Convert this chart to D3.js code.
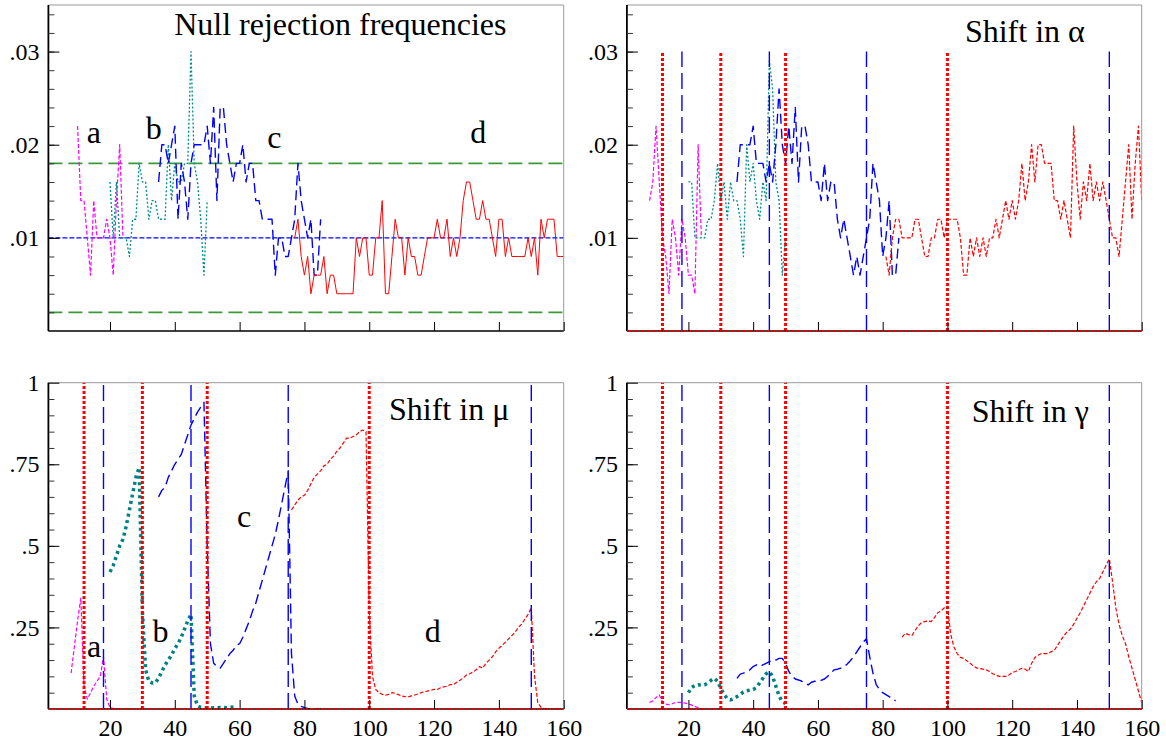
<!DOCTYPE html>
<html>
<head>
<meta charset="utf-8">
<script src="https://cdn.jsdelivr.net/npm/d3@7"></script>
<style>
  body { margin: 0; background: #fff; }
  text { font-family: "Liberation Serif", "Times New Roman", serif; fill: #000; }
</style>
</head>
<body>
<svg id="chart" width="1166" height="747"></svg>
<script>
// sample sizes run from 1 to 160
const T_FIRST = 1, T_LAST = 160;
const xTickValues = [20, 40, 60, 80, 100, 120, 140, 160];

// break dates (red dotted) and end of samples (blue dashed)
const breakDates = [12, 30, 50, 100];
const sampleEnds = [18, 45, 75, 150];

// Null rejection frequencies (top left)
const nullA_start = 10;
const nullA = [.022,.014,.014,.010,.006,.014,.010,.010,.010,.012,.010,.006,.014,.020,.010];
const nullB_start = 20;
const nullB = [.016,.010,.016,.010,.010,.010,.008,.012,.012,.018,.016,.016,.012,.014,.014,.012,
  .012,.012,.020,.014,.018,.016,.016,.018,.018,.030,.018,.016,.012,.006,.014];
const nullC_start = 35;
const nullC = [.016,.020,.020,.018,.020,.022,.012,.018,.016,.012,
  .018,.020,.020,.020,.020,.022,.018,.024,.014,.024,
  .024,.020,.018,.016,.018,.018,.020,.016,.018,.018,
  .014,.014,.012,.012,.012,.012,.006,.010,.010,.008,
  .008,.010,.012,.018,.014,.012,.010,.012,.006,.006,
  .012];
const nullD_start = 77;
const nullD = [.010,.012,.008,.006,.008,.004,.006,.006,.006,.008,
  .004,.006,.006,.004,.004,.004,.004,.004,.004,.010,
  .008,.010,.010,.006,.006,.010,.010,.014,.004,.004,
  .008,.012,.010,.010,.006,.010,.008,.008,.006,.006,
  .008,.010,.010,.010,.012,.010,.010,.012,.008,.010,
  .008,.010,.014,.016,.016,.014,.012,.012,.014,.012,
  .012,.010,.008,.012,.012,.008,.010,.008,.008,.008,
  .008,.008,.010,.008,.010,.006,.012,.010,.012,.012,
  .012,.008,.008,.008];
const nullBands = [0.018, 0.002];
const nominalSize = 0.01;

// Shift in alpha (top right)
const alphaA_start = 8;
const alphaA = [.014,.016,.022,.016,.010,.008,.004,.012,.010,.006,.012,.010,.006,.006,.004,.020,.010];
const alphaB_start = 20;
const alphaB = [.016,.016,.010,.010,.010,.010,.012,.012,.014,.018,.014,.016,.012,.016,.014,.014,
  .012,.008,.020,.016,.018,.014,.012,.016,.014,.029,.026,.016,.014,.006,.010];
const alphaC_start = 35;
const alphaC = [.016,.020,.020,.020,.020,.022,.018,.018,.018,.016,
  .018,.016,.020,.026,.020,.018,.022,.018,.024,.016,
  .022,.022,.020,.016,.016,.016,.014,.018,.014,.016,
  .016,.012,.010,.012,.010,.008,.006,.008,.006,.008,
  .010,.012,.018,.016,.014,.008,.010,.014,.006,.006,
  .010];
const alphaD_start = 81;
const alphaD = [.008,.006,.010,.012,.012,.010,.010,.010,.010,.012,
  .012,.010,.008,.008,.010,.010,.012,.012,.010,.012,
  .012,.012,.012,.010,.006,.006,.010,.008,.010,.008,
  .010,.008,.010,.010,.012,.010,.012,.014,.012,.014,
  .012,.014,.018,.014,.016,.020,.016,.020,.020,.018,
  .018,.018,.014,.014,.012,.014,.012,.010,.022,.016,
  .012,.016,.014,.018,.014,.016,.014,.016,.014,.012,
  .010,.010,.008,.012,.016,.020,.012,.018,.022,.014];

// Shift in mu (bottom left)
const muA_start = 8;
const muA = [.11,.19,.27,.34,.07,.03,.05,.07,.085,.10,.16,.03,.005,.002,.001,0,0];
const muB_start = 20;
const muB = [.42,.44,.47,.50,.52,.56,.61,.66,.71,.74,.30,.12,.085,.08,.08,.095,.115,.135,.15,.165,
  .185,.20,.22,.245,.27,.29,.04,.01,.005,.004,.003,.003,.004,.004,.005,.005,.004,.005,.006,.007];
const muC_start = 35;
const muC = [.65,.67,.68,.71,.73,.75,.765,.78,.81,.84,
  .87,.89,.91,.925,.94,.50,.20,.14,.13,.125,
  .14,.155,.17,.18,.195,.20,.22,.245,.27,.30,
  .325,.36,.395,.43,.465,.50,.535,.58,.63,.68,
  .73,.17,.04,.015,.008,.004,.002,.001,0,0,
  0];
const muD_start = 76;
const muD = [.61,.625,.64,.65,.655,.67,.69,.71,.72,.73,
  .745,.75,.765,.775,.79,.80,.815,.83,.83,.835,
  .84,.85,.855,.85,.30,.10,.06,.05,.045,.042,
  .045,.05,.048,.044,.04,.038,.037,.04,.043,.046,
  .05,.053,.055,.057,.06,.06,.065,.068,.07,.075,
  .075,.082,.088,.095,.104,.108,.114,.12,.13,.125,
  .14,.15,.16,.175,.186,.195,.205,.215,.225,.235,
  .25,.26,.275,.29,.31,.10,.02,.005,.002,0,
  0,0,0,0,0];

// Shift in gamma (bottom right)
const gammaA_start = 8;
const gammaA = [.02,.025,.035,.043,.022,.015,.013,.016,.02,.02,.02,.018,.016,.012,.008,.004,0];
const gammaB_start = 20;
const gammaB = [.05,.066,.072,.074,.073,.074,.08,.088,.094,.085,.063,.045,.032,.028,.032,.038,
  .045,.052,.056,.058,.06,.066,.08,.094,.108,.114,.10,.07,.04,.022,.017];
const gammaC_start = 35;
const gammaC = [.094,.107,.11,.115,.12,.13,.135,.13,.135,.14,
  .145,.15,.15,.155,.155,.14,.115,.10,.092,.089,
  .085,.08,.074,.082,.085,.084,.088,.092,.10,.11,
  .12,.122,.125,.13,.137,.148,.16,.175,.19,.205,
  .215,.16,.11,.075,.06,.05,.044,.038,.032,.025];
const gammaD_start = 86;
const gammaD = [.22,.232,.228,.225,.24,.255,.265,.268,.27,.268,
  .28,.295,.30,.31,.315,.23,.19,.17,.158,.155,
  .148,.14,.132,.126,.124,.122,.12,.115,.108,.104,
  .10,.10,.10,.104,.112,.115,.12,.125,.122,.115,
  .14,.158,.165,.17,.17,.17,.175,.18,.195,.21,
  .225,.237,.245,.26,.278,.295,.315,.335,.355,.375,
  .39,.40,.42,.44,.46,.39,.31,.26,.225,.20,
  .16,.125,.09,.055,.02];

// line styles
const styles = {
  magenta:   { color: "#ff00ff", dash: "4,2", width: 1.2 },
  tealThin:  { color: "#008b8b", dash: "2,2", width: 1.3 },
  tealThick: { color: "#008080", dash: "3,3.5", width: 3.5 },
  blue:      { color: "#0000ff", dash: "10,5", width: 1.4 },
  redSolid:  { color: "#ff0000", dash: null, width: 1 },
  redDash:   { color: "#ff0000", dash: "4,2", width: 1.2 }
};

const svg = d3.select("#chart");
const SERIF = '"Liberation Serif", "Times New Roman", serif';
const tickLabel = v => String(v).replace(/^0\./, ".");

const smallTicks = d3.range(1, 18).map(i => +(i * 0.002).toFixed(3));
const bigTicks = d3.range(1, 20).map(i => +(i * 0.05).toFixed(2));

const panels = [
  {
    id: "null", box: [48.4, 563.7, 5, 331], yMax: 0.035,
    major: [0.01, 0.02, 0.03], minor: smallTicks, xLabels: false,
    hlines: [
      { v: nullBands[0], color: "#3a9a3a", dash: "14,6", width: 1.6 },
      { v: nullBands[1], color: "#3a9a3a", dash: "14,6", width: 1.6 },
      { v: nominalSize, color: "#0000ff", dash: "5,2", width: 1.2 }
    ],
    series: [
      { start: nullA_start, values: nullA, style: styles.magenta },
      { start: nullB_start, values: nullB, style: styles.tealThin },
      { start: nullC_start, values: nullC, style: styles.blue },
      { start: nullD_start, values: nullD, style: styles.redSolid }
    ],
    verticals: null, zeroLine: false,
    title: { text: "Null rejection frequencies", t: 39.8, v: 0.0318 },
    letters: [
      { text: "a", t: 12.8, v: 0.0202 }, { text: "b", t: 31, v: 0.0206 },
      { text: "c", t: 68.5, v: 0.0197 }, { text: "d", t: 131.2, v: 0.0202 }
    ]
  },
  {
    id: "alpha", box: [626.9, 1141.7, 5, 331], yMax: 0.035,
    major: [0.01, 0.02, 0.03], minor: smallTicks, xLabels: false,
    hlines: [],
    series: [
      { start: alphaA_start, values: alphaA, style: styles.magenta },
      { start: alphaB_start, values: alphaB, style: styles.tealThin },
      { start: alphaC_start, values: alphaC, style: styles.blue },
      { start: alphaD_start, values: alphaD, style: styles.redDash }
    ],
    verticals: 0.03, zeroLine: true,
    title: { text: "Shift in α", t: 105.4, v: 0.031 },
    letters: []
  },
  {
    id: "mu", box: [48.4, 563.7, 382.7, 709], yMax: 1,
    major: [0.25, 0.5, 0.75, 1], minor: bigTicks, xLabels: true,
    hlines: [],
    series: [
      { start: muA_start, values: muA, style: styles.magenta },
      { start: muB_start, values: muB, style: styles.tealThick },
      { start: muC_start, values: muC, style: styles.blue },
      { start: muD_start, values: muD, style: styles.redDash }
    ],
    verticals: 1, zeroLine: true,
    title: { text: "Shift in μ", t: 106.1, v: 0.886 },
    letters: [
      { text: "a", t: 12.9, v: 0.159 }, { text: "b", t: 33.1, v: 0.205 },
      { text: "c", t: 59.2, v: 0.558 }, { text: "d", t: 117.1, v: 0.205 }
    ]
  },
  {
    id: "gamma", box: [626.9, 1141.7, 382.7, 709], yMax: 1,
    major: [0.25, 0.5, 0.75, 1], minor: bigTicks, xLabels: true,
    hlines: [],
    series: [
      { start: gammaA_start, values: gammaA, style: styles.magenta },
      { start: gammaB_start, values: gammaB, style: styles.tealThick },
      { start: gammaC_start, values: gammaC, style: styles.blue },
      { start: gammaD_start, values: gammaD, style: styles.redDash }
    ],
    verticals: 1, zeroLine: true,
    title: { text: "Shift in γ", t: 107.5, v: 0.88 },
    letters: []
  }
];

function drawPanel(p) {
  const [left, right, top, bottom] = p.box;
  const x = d3.scaleLinear().domain([T_FIRST, T_LAST]).range([left, right]);
  const y = d3.scaleLinear().domain([0, p.yMax]).range([bottom, top]);
  const g = svg.append("g").attr("class", "panel-" + p.id);

  svg.append("clipPath").attr("id", "clip-" + p.id)
    .append("rect").attr("x", left).attr("y", top - 1)
    .attr("width", right - left).attr("height", bottom - top + 1);
  const plot = g.append("g").attr("clip-path", `url(#clip-${p.id})`);

  // horizontal reference lines
  plot.selectAll(".hline").data(p.hlines).enter().append("line")
    .attr("x1", left).attr("x2", right)
    .attr("y1", d => y(d.v)).attr("y2", d => y(d.v))
    .attr("stroke", d => d.color).attr("stroke-width", d => d.width)
    .attr("stroke-dasharray", d => d.dash);

  // recursive series
  p.series.forEach(s => {
    const line = d3.line().x((d, i) => x(s.start + i)).y(d => y(d));
    plot.append("path").datum(s.values).attr("d", line)
      .attr("fill", "none")
      .attr("stroke", s.style.color)
      .attr("stroke-width", s.style.width)
      .attr("stroke-dasharray", s.style.dash)
      .attr("stroke-linejoin", "round");
  });

  // break dates and ends of samples
  if (p.verticals !== null) {
    plot.selectAll(".brk").data(breakDates).enter().append("line")
      .attr("x1", d => x(d)).attr("x2", d => x(d))
      .attr("y1", y(0)).attr("y2", y(p.verticals))
      .attr("stroke", "#ff0000").attr("stroke-width", 3).attr("stroke-dasharray", "3,2");
    plot.selectAll(".end").data(sampleEnds).enter().append("line")
      .attr("x1", d => x(d)).attr("x2", d => x(d))
      .attr("y1", y(0)).attr("y2", y(p.verticals))
      .attr("stroke", "#0000ff").attr("stroke-width", 1.4).attr("stroke-dasharray", "16,6");
  }

  // frame
  g.append("line").attr("x1", left).attr("x2", right).attr("y1", top).attr("y2", top)
    .attr("stroke", "#999").attr("stroke-width", 1);
  g.append("line").attr("x1", right).attr("x2", right).attr("y1", top).attr("y2", bottom)
    .attr("stroke", "#999").attr("stroke-width", 1);
  g.append("line").attr("x1", left).attr("x2", right).attr("y1", bottom).attr("y2", bottom)
    .attr("stroke", "#000").attr("stroke-width", 1.5);
  g.append("line").attr("x1", left).attr("x2", left).attr("y1", top).attr("y2", bottom)
    .attr("stroke", "#000").attr("stroke-width", 1.8);

  if (p.zeroLine) {
    g.append("line").attr("x1", left).attr("x2", right).attr("y1", y(0)).attr("y2", y(0))
      .attr("stroke", "#ff0000").attr("stroke-width", 2).attr("stroke-dasharray", "1.5,1.5");
  }

  // y axis: minor and major ticks pointing inwards
  g.append("g").attr("transform", `translate(${left},0)`)
    .call(d3.axisLeft(y).tickValues(p.minor).tickSize(-6).tickFormat(""))
    .call(a => a.select(".domain").remove())
    .selectAll("line").attr("stroke", "#333");
  g.append("g").attr("transform", `translate(${left},0)`)
    .call(d3.axisLeft(y).tickValues(p.major).tickSize(-11).tickPadding(9).tickFormat(tickLabel))
    .call(a => a.select(".domain").remove())
    .attr("font-family", SERIF).attr("font-size", 24);

  // x axis
  g.append("g").attr("transform", `translate(0,${bottom})`)
    .call(d3.axisBottom(x).tickValues(xTickValues).tickSize(-9).tickPadding(10)
      .tickFormat(p.xLabels ? d3.format("d") : ""))
    .call(a => a.select(".domain").remove())
    .attr("font-family", SERIF).attr("font-size", 24);

  // title and curve letters
  g.append("text").attr("x", x(p.title.t)).attr("y", y(p.title.v))
    .attr("font-size", 32).text(p.title.text);
  g.selectAll(".letter").data(p.letters).enter().append("text")
    .attr("x", d => x(d.t)).attr("y", d => y(d.v))
    .attr("font-size", 32).text(d => d.text);
}

panels.forEach(drawPanel);
</script>
</body>
</html>
